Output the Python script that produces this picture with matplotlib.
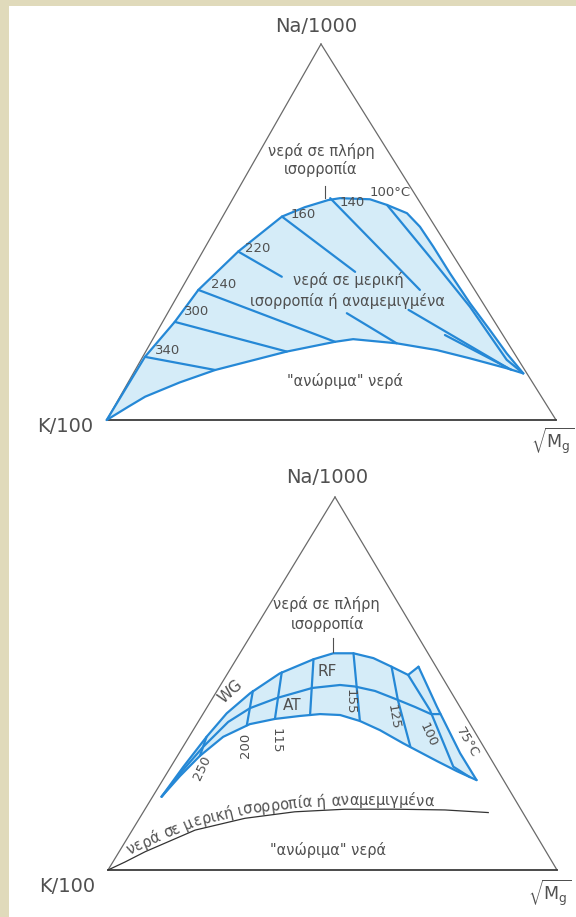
import numpy as np
import matplotlib.pyplot as plt
from matplotlib.patches import Rectangle, Polygon
from matplotlib.transforms import IdentityTransform
from matplotlib.font_manager import FontProperties

FIG_W, FIG_H, DPI = 576, 917, 100

BEIGE = '#e0dabb'
BLUE = '#2588d6'
FILL = '#d5ecf8'
GREY = '#505050'
EDGE = '#6a6a6a'

plt.rcParams['font.family'] = ['DejaVu Sans']
plt.rcParams['mathtext.fontset'] = 'dejavusans'

# corners of the two triangles on the page (pixels, y down): K, Mg, Na
TOP_TRI = dict(k=(106.7, 420.0), mg=(556.0, 420.0), na=(321.0, 44.0))
BOT_TRI = dict(k=(108.0, 870.0), mg=(557.0, 870.0), na=(335.0, 497.0))

# ---------------- upper diagram (Mg fraction, Na fraction; K = rest) ----------------
top_full_mg = [0.0, 0.005, 0.027, 0.039, 0.079, 0.132, 0.171, 0.214, 0.238, 0.306,
               0.351, 0.406, 0.452, 0.507, 0.578, 0.661, 0.739, 0.806, 0.868]
top_full_na = [0.0, 0.168, 0.261, 0.346, 0.448, 0.541, 0.566, 0.585, 0.590, 0.587,
               0.572, 0.550, 0.514, 0.461, 0.390, 0.310, 0.239, 0.177, 0.124]

top_low_mg = [0.0, 0.031, 0.056, 0.115, 0.178, 0.314, 0.409, 0.446, 0.548, 0.646,
              0.730, 0.825, 0.868]
top_low_na = [0.0, 0.035, 0.062, 0.100, 0.133, 0.182, 0.208, 0.215, 0.204, 0.186,
              0.164, 0.1375, 0.124]

nan = float('nan')
top_iso_temps = [340, 300, 240, 220, 160, 140, 120]
top_iso_mg = [
    [0.005, 0.178],
    [0.027, 0.314],
    [0.039, 0.409],
    [0.079, 0.208, nan, 0.399, 0.548],
    [0.132, 0.365, nan, 0.532, 0.828],
    [0.216, 0.532, nan, 0.645, 0.838],
    [0.351, 0.512, 0.665, 0.814, 0.868],
]
top_iso_na = [
    [0.168, 0.133],
    [0.261, 0.182],
    [0.346, 0.208],
    [0.448, 0.381, nan, 0.284, 0.204],
    [0.541, 0.394, nan, 0.293, 0.1375],
    [0.590, 0.346, nan, 0.226, 0.133],
    [0.572, 0.434, 0.301, 0.160, 0.124],
]
top_iso_labels = ['340', '300', '240', '220', '160', '140']

# ---------------- lower diagram ----------------
bot_upper_mg = [0.020, 0.028, 0.039, 0.052, 0.077, 0.116, 0.172, 0.208, 0.253, 0.304,
                0.356, 0.404, 0.416]
bot_upper_na = [0.1965, 0.277, 0.357, 0.420, 0.474, 0.527, 0.565, 0.581, 0.581, 0.568,
                0.545, 0.523, 0.545]
bot_edge_mg = [0.416, 0.511, 0.626, 0.699]
bot_edge_na = [0.545, 0.438, 0.313, 0.241]
bot_lower_mg = [0.020, 0.033, 0.050, 0.076, 0.118, 0.167, 0.219, 0.261, 0.307, 0.359,
                0.416, 0.485, 0.535, 0.585, 0.643, 0.699]
bot_lower_na = [0.1965, 0.252, 0.306, 0.357, 0.391, 0.405, 0.413, 0.418, 0.4155, 0.3995,
                0.375, 0.340, 0.316, 0.292, 0.265, 0.241]
bot_mid_mg = [0.020, 0.031, 0.045, 0.067, 0.097, 0.143, 0.208, 0.266, 0.301, 0.352,
              0.415, 0.463, 0.508, 0.529]
bot_mid_na = [0.1965, 0.265, 0.330, 0.397, 0.434, 0.461, 0.488, 0.496, 0.492, 0.480,
              0.456, 0.437, 0.418, 0.418]
bot_inner_mg = [0.404, 0.500, 0.629, 0.680]
bot_inner_na = [0.523, 0.429, 0.277, 0.249]
bot_div_mg = [[0.039, 0.050], [0.080, 0.113], [0.119, 0.167], [0.172, 0.240],
              [0.253, 0.359], [0.356, 0.415, 0.506]]
bot_div_na = [[0.357, 0.306], [0.480, 0.388], [0.530, 0.405], [0.565, 0.4155],
              [0.581, 0.3995], [0.545, 0.456, 0.331]]

bot_partial_mg = [0.0, 0.027, 0.058, 0.140, 0.235, 0.337, 0.446, 0.557, 0.669, 0.769]
bot_partial_na = [0.0, 0.0214, 0.049, 0.107, 0.1386, 0.156, 0.163, 0.163, 0.161, 0.154]


def px(x, y):
    return x / FIG_W, 1 - y / FIG_H


def tri_axes(fig, tri):
    kx, ky = tri['k']
    mx, _ = tri['mg']
    nx, ny = tri['na']
    ax = fig.add_axes([kx / FIG_W, 1 - ky / FIG_H, (mx - kx) / FIG_W, (ky - ny) / FIG_H])
    ax.set_xlim(0, 1)
    ax.set_ylim(0, 1)
    ax.axis('off')
    ax.patch.set_alpha(0)
    ax.off = (nx - kx) / (mx - kx)
    return ax


def tern(ax, mg, na):
    mg = np.asarray(mg, dtype=float)
    na = np.asarray(na, dtype=float)
    return mg + ax.off * na, na


def outline(ax):
    x, y = tern(ax, [0, 0, 1], [0, 1, 0])
    ax.plot([x[1], x[0]], [y[1], y[0]], color=EDGE, lw=0.9, clip_on=False)
    ax.plot([x[1], x[2]], [y[1], y[2]], color=EDGE, lw=0.9, clip_on=False)
    ax.plot([x[0], x[2]], [y[0], y[2]], color='#3c3c3c', lw=1.3, clip_on=False)


def blue(ax, mg, na, lw=1.6):
    x, y = tern(ax, mg, na)
    ax.plot(x, y, color=BLUE, lw=lw, solid_capstyle='round',
            solid_joinstyle='round', clip_on=False)


fig = plt.figure(figsize=(FIG_W / DPI, FIG_H / DPI), dpi=DPI, facecolor=BEIGE)
fig.add_artist(Rectangle((9 / FIG_W, 0), 1, 1 - 6 / FIG_H, transform=fig.transFigure,
                         facecolor='white', edgecolor='none', zorder=-10))

# ================= upper diagram =================
ax1 = tri_axes(fig, TOP_TRI)
ux, uy = tern(ax1, top_full_mg, top_full_na)
lx, ly = tern(ax1, top_low_mg, top_low_na)
ax1.add_patch(Polygon(np.column_stack([np.r_[ux, lx[::-1]], np.r_[uy, ly[::-1]]]),
                      closed=True, facecolor=FILL, edgecolor='none'))
outline(ax1)
blue(ax1, top_full_mg, top_full_na)
blue(ax1, top_low_mg, top_low_na)
for mg, na in zip(top_iso_mg, top_iso_na):
    blue(ax1, mg, na)

lab_kw = dict(color=GREY, ha='center', va='center')
for t, (x, y) in zip(top_iso_labels, [(168, 351), (197, 311), (224, 284), (258, 248),
                                      (303, 215), (352, 203)]):
    fig.text(*px(x, y), t, fontsize=9.5, **lab_kw)
fig.text(*px(390, 192), '100°C', fontsize=9.5, **lab_kw)
fig.text(*px(321, 151), 'νερά σε πλήρη', fontsize=10.5, **lab_kw)
fig.text(*px(321, 169), 'ισορροπία', fontsize=10.5, **lab_kw)
fig.text(*px(348, 280), 'νερά σε μερική', fontsize=10.5, **lab_kw)
fig.text(*px(347, 301), 'ισορροπία ή αναμεμιγμένα', fontsize=10.5, **lab_kw)
fig.text(*px(345, 381), '"ανώριμα" νερά', fontsize=10.5, **lab_kw)
fig.add_artist(plt.Line2D([325 / FIG_W] * 2, [1 - 186 / FIG_H, 1 - 198 / FIG_H],
                          color=GREY, lw=0.8))
fig.text(*px(316, 27), 'Na/1000', fontsize=14, **lab_kw)
fig.text(*px(65, 426), 'K/100', fontsize=14, **lab_kw)
fig.text(*px(553, 441), r'$\sqrt{\mathrm{M_g}}$', fontsize=12.5, **lab_kw)

# ================= lower diagram =================
ax2 = tri_axes(fig, BOT_TRI)
ax_, ay_ = tern(ax2, bot_upper_mg, bot_upper_na)
ex, ey = tern(ax2, bot_edge_mg, bot_edge_na)
cx, cy = tern(ax2, bot_lower_mg, bot_lower_na)
ax2.add_patch(Polygon(np.column_stack([np.r_[ax_, ex, cx[::-1]], np.r_[ay_, ey, cy[::-1]]]),
                      closed=True, facecolor=FILL, edgecolor='none'))
outline(ax2)
blue(ax2, bot_upper_mg, bot_upper_na)
blue(ax2, bot_edge_mg, bot_edge_na)
blue(ax2, bot_lower_mg, bot_lower_na)
blue(ax2, bot_mid_mg, bot_mid_na)
blue(ax2, bot_inner_mg, bot_inner_na)
for mg, na in zip(bot_div_mg, bot_div_na):
    blue(ax2, mg, na)

px_, py_ = tern(ax2, bot_partial_mg, bot_partial_na)
ax2.plot(px_, py_, color='#333333', lw=0.9, clip_on=False)

for t, (x, y), r in zip(['250', '200', '115', '155', '125', '100', '75°C'],
                        [(202, 768), (245, 745), (276, 741), (350, 702), (393, 717),
                         (428, 735), (467, 742)],
                        [65, 90, -90, -90, -80, -65, -60]):
    fig.text(*px(x, y), t, fontsize=9.5, rotation=r, **lab_kw)
fig.text(*px(231, 692), 'WG', fontsize=11, rotation=42, **lab_kw)
fig.text(*px(327, 672), 'RF', fontsize=11, **lab_kw)
fig.text(*px(292, 705), 'AT', fontsize=11, **lab_kw)
fig.text(*px(326, 604), 'νερά σε πλήρη', fontsize=10.5, **lab_kw)
fig.text(*px(328, 624), 'ισορροπία', fontsize=10.5, **lab_kw)
fig.add_artist(plt.Line2D([333 / FIG_W] * 2, [1 - 638 / FIG_H, 1 - 652 / FIG_H],
                          color=GREY, lw=0.8))
fig.text(*px(328, 850), '"ανώριμα" νερά', fontsize=10.5, **lab_kw)
fig.text(*px(327, 478), 'Na/1000', fontsize=14, **lab_kw)
fig.text(*px(67, 887), 'K/100', fontsize=14, **lab_kw)
fig.text(*px(550, 893), r'$\sqrt{\mathrm{M_g}}$', fontsize=12.5, **lab_kw)

# curved label along the partial-equilibrium line
curve_text = 'νερά σε μερική ισορροπία ή αναμεμιγμένα'
renderer = fig.canvas.get_renderer()
prop = FontProperties(family='DejaVu Sans', size=10.5)
pts = ax2.transData.transform(np.column_stack([px_, py_]))
seg = np.hypot(np.diff(pts[:, 0]), np.diff(pts[:, 1]))
cum = np.r_[0, np.cumsum(seg)]
base_w = renderer.get_text_width_height_descent('aa', prop, ismath=False)[0]
s = 26.0
for ch in curve_text:
    w = renderer.get_text_width_height_descent('a' + ch + 'a', prop, ismath=False)[0] - base_w
    sc = s + w / 2
    i = int(np.clip(np.searchsorted(cum, sc) - 1, 0, len(seg) - 1))
    f = (sc - cum[i]) / seg[i]
    p = pts[i] + f * (pts[i + 1] - pts[i])
    d = (pts[i + 1] - pts[i]) / seg[i]
    nrm = np.array([-d[1], d[0]])
    pos = p + nrm * 4.0
    ang = np.degrees(np.arctan2(d[1], d[0]))
    fig.text(pos[0], pos[1], ch, transform=IdentityTransform(), fontproperties=prop,
             color=GREY, rotation=ang, rotation_mode='anchor', ha='center', va='baseline')
    s += w

fig.savefig('out.png', dpi=DPI, facecolor=BEIGE)
